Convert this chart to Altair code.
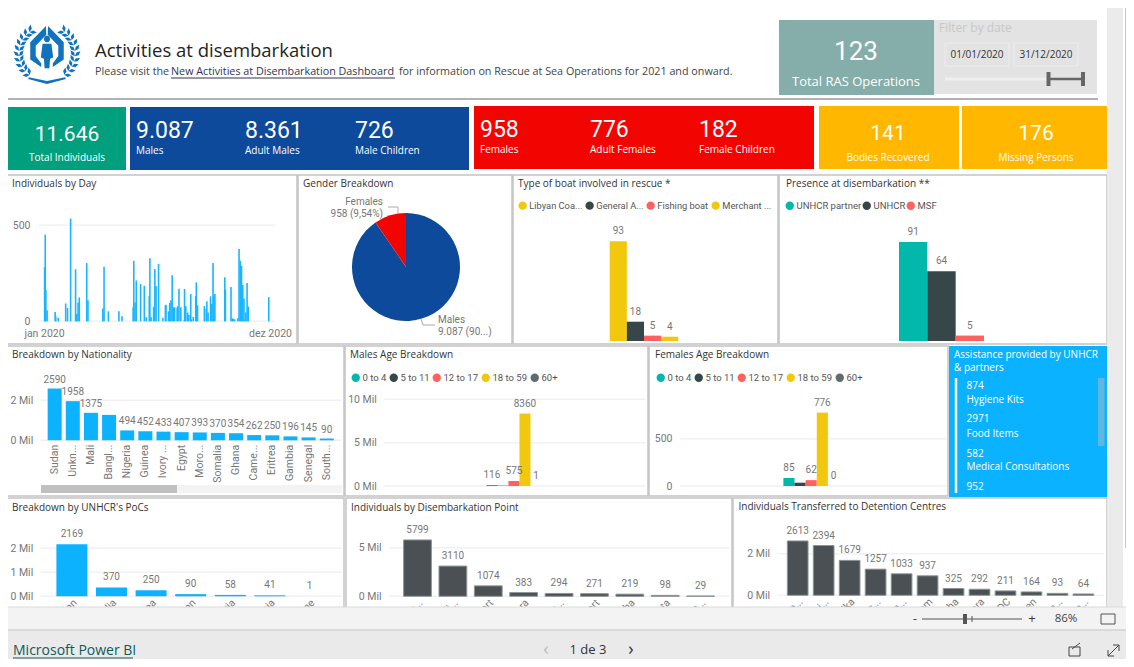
import math
import altair as alt
import pandas as pd

# ---------- data ----------
day_of_2020 = [1,2,3,5,18,19,23,35,38,43,51,52,53,55,57,69,71,95,97,104,121,126,144,145,147,149,156,162,165,170,171,173,177,179,181,185,192,196,197,201,203,205,207,209,211,215,216,218,221,226,227,229,232,234,237,238,241,245,246,248,259,262,263,265,269,271,273,274,276,292,293,302,304,306,308,313,315,317,319,321,323,325,326,328,330,363]
individuals_per_day = [282,451,163,58,49,26,18,93,70,535,271,37,37,98,124,303,110,67,284,52,52,26,73,315,98,212,194,185,21,131,329,21,75,273,184,299,18,84,86,52,96,110,240,73,73,70,79,170,73,4,168,79,46,33,142,9,23,131,203,84,79,65,105,46,130,91,304,133,142,229,165,179,16,12,10,16,376,315,289,189,119,10,47,200,77,126]

gender_cats = ["Males", "Females"]
gender_vals = [9087, 958]

boat_cats = ["Libyan Coa...", "General A...", "Fishing boat", "Merchant ..."]
boat_vals = [93, 18, 5, 4]
presence_cats = ["UNHCR partner", "UNHCR", "MSF"]
presence_vals = [91, 64, 5]

nat_cats = ["Sudan","Unkn...","Mali","Bangl...","Nigeria","Guinea","Ivory ...","Egypt","Moro...","Somalia","Ghana","Came...","Eritrea","Gambia","Senegal","South..."]
nat_vals = [2590,1958,1375,1270,494,452,433,407,393,370,354,262,250,196,145,90]
nat_labels = ["2590","1958","1375","","494","452","433","407","393","370","354","262","250","196","145","90"]

age_cats = ["0 to 4", "5 to 11", "12 to 17", "18 to 59", "60+"]
male_age = [116, 35, 575, 8360, 1]
male_age_labels = ["116", "", "575", "8360", "1"]
female_age = [85, 35, 62, 776, 0]
female_age_labels = ["85", "", "62", "776", "0"]

poc_cats = ["Sudan","Somalia","Eritrea","South Sudan","Syria","Albania","Sierra Leone"]
poc_vals = [2169,370,250,90,58,41,1]
point_cats = ["Al-Khums...","Tripoli...","Tripoli Port","Zuwara","Al Maya...","Misrata Port","Sabratha","Misrata","Sirt..."]
point_vals = [5799,3110,1074,383,294,271,219,98,29]
centre_cats = ["Tajoura...","Al-Mabani...","Zwara Al Ika","Al-Khums...","Abu Salim...","Dar Al Karem","Sabratha","Zuwara","DC","Zliten","Misrata...","Gharyan..."]
centre_vals = [2613,2394,1679,1257,1033,937,325,292,211,164,93,64]

kpis_left = [("9.087","Males"),("8.361","Adult Males"),("726","Male Children")]
kpis_red = [("958","Females"),("776","Adult Females"),("182","Female Children")]
assist = [("874","Hygiene Kits"),("2971","Food Items"),("582","Medical Consultations"),("952","")]

# ---------- palette and layout ----------
W, H = 1118, 651
UI = "Open Sans"
NUM = "Roboto"
BLUE, DARK, RED, YEL, TEAL, GREY = "#0DB2FF", "#374649", "#FD625E", "#F2C80F", "#01B8AA", "#5F6B6D"
BAR_DARK = "#4A5053"
LAB = "#777777"
layers = []

def px(v): return alt.value(v - 8)
def py(v): return alt.value(v - 8)

def rect(x0, y0, x1, y1, fill=None, stroke=None, sw=1.0):
    kw = {}
    kw["fill"] = fill if fill else "transparent"
    if stroke:
        kw["stroke"] = stroke
        kw["strokeWidth"] = sw
    layers.append(alt.Chart().mark_rect(**kw).encode(x=px(x0), x2=px(x1), y=py(y0), y2=py(y1)))

def line(x0, y0, x1, y1, color, sw=1.0):
    layers.append(alt.Chart().mark_rule(color=color, strokeWidth=sw).encode(x=px(x0), x2=px(x1), y=py(y0), y2=py(y1)))

def text(x, y, s, size=10, color="#333333", align="left", font=UI, weight="normal"):
    layers.append(alt.Chart().mark_text(fontSize=size, color=color, align=align, baseline="middle", font=font, fontWeight=weight)
                  .encode(x=px(x), y=py(y), text=alt.value(s)))

def y_axis(x, ticks, expr=None):
    kw = dict(values=ticks, domain=False, ticks=False, grid=False, title=None, labelFont=NUM, labelFontSize=10.5,
              labelColor=LAB, labelPadding=8, offset=-(x - 8), orient="left", labelBaseline="middle")
    if expr:
        kw["labelExpr"] = expr
    return alt.Axis(**kw)

def panel(cats, vals, labels, xr, inner, ydom, yr, ticks, grid, expr, color, stroke=None, angle=None,
          legend=None, label_dy=-10, label_size=10, ax_pad=1):
    xs = alt.Scale(type="band", domain=cats, range=[xr[0] - 8, xr[1] - 8], paddingInner=inner, paddingOuter=inner / 2)
    ys = alt.Scale(domain=[0, ydom], range=[yr[0] - 8, yr[1] - 8], nice=False)
    if ticks:
        layers.append(alt.Chart(pd.DataFrame({"t": ticks})).mark_rule(color="#F1F1F1", strokeWidth=1.5).encode(
            y=alt.Y("t:Q", scale=ys, axis=y_axis(grid[0], ticks, expr)), x=px(grid[0]), x2=px(grid[1])))
    df = pd.DataFrame({"c": cats, "v": vals, "t": labels})
    if angle is not None:
        xax = alt.Axis(orient="bottom", domain=False, ticks=False, grid=False, title=None, labelAngle=angle,
                       labelFont=NUM, labelFontSize=10.5, labelColor=LAB, labelPadding=ax_pad, labelOverlap=False,
                       offset=(yr[0] - 8) - H, labelAlign="right")
    else:
        xax = None
    enc = dict(x=alt.X("c:N", scale=xs, axis=xax, sort=None), y=alt.Y("v:Q", scale=ys, axis=None))
    if isinstance(color, str):
        enc["color"] = alt.value(color)
    else:
        enc["color"] = alt.Color("c:N", scale=alt.Scale(domain=cats, range=color), legend=legend, sort=None)
    kw = {}
    if stroke:
        kw = dict(stroke=stroke, strokeWidth=1)
    layers.append(alt.Chart(df).mark_bar(**kw).encode(**enc))
    layers.append(alt.Chart(df).mark_text(dy=label_dy, fontSize=label_size, font=NUM, color=LAB, baseline="middle").encode(
        x=alt.X("c:N", scale=xs, axis=None, sort=None), y=alt.Y("v:Q", scale=ys, axis=None), text="t:N"))

def dot_legend(x, y, pad, size=9.5):
    return alt.Legend(orient="none", legendX=x - 8, legendY=y - 8, direction="horizontal", title=None, columns=5,
                      gridAlign="none", symbolType="circle", symbolSize=70, symbolStrokeWidth=0, labelFont=NUM, labelFontSize=size,
                      labelColor="#555555", labelOffset=2, columnPadding=pad, padding=0)

# ---------- header ----------
def logo_path():
    scale = 97.0
    def u(p): return f"{(p[0]-125)/scale:.3f},{(p[1]-105)/scale:.3f}"
    def poly(pts): return "M" + " L".join(u(p) for p in pts) + " Z"
    hand = [(122,20),(76,68),(76,118),(108,140),(108,130),(92,108),(92,78),(123,46)]
    parts = [poly(hand), poly([(250-a,b) for a,b in hand])]
    body = [(112,72),(138,72),(143,112),(134,116),(132,144),(118,144),(116,116),(107,112)]
    parts.append(poly(body))
    head = [(125+9*math.cos(i*math.pi/6), 58+10*math.sin(i*math.pi/6)) for i in range(12)]
    parts.append(poly(head))
    parts.append(poly([(72,170),(125,181),(178,170),(180,175),(125,190),(70,175)]))
    for k in range(10):
        a = math.radians(128 + k * 11.5)
        cx, cy = 125 + 82 * math.cos(a), 100 + 80 * math.sin(a)
        tan = (-math.sin(a), math.cos(a))
        rad = (math.cos(a), math.sin(a))
        for off in (-0.7, 0.7):
            dx, dy = tan[0] * 0.75 + rad[0] * off, tan[1] * 0.75 + rad[1] * off
            nx, ny = -dy * 5, dx * 5
            pts = [(cx, cy), (cx + dx * 10 + nx, cy + dy * 10 + ny), (cx + dx * 21, cy + dy * 21), (cx + dx * 10 - nx, cy + dy * 10 - ny)]
            parts.append(poly(pts))
            parts.append(poly([(250 - p, q) for p, q in pts]))
    return " ".join(parts)

layers.append(alt.Chart().mark_point(shape=logo_path(), size=4400, filled=True, color="#1173BE", opacity=1)
              .encode(x=px(47), y=py(55)))
text(95, 51, "Activities at disembarkation", 18.5, "#252423")
text(95, 72, "Please visit the", 10.75, "#444444")
text(171, 72, "New Activities at Disembarkation Dashboard", 10.75, "#333355")
line(171, 78, 395, 78, "#333355")
text(399, 72, "for information on Rescue at Sea Operations for 2021 and onward.", 10.75, "#444444")
line(8, 99, 1098, 99, "#999999", 1.5)

rect(779, 20, 934, 95, "#85ADA9")
text(856, 52, "123", 26, "white", "center", NUM)
text(856, 82, "Total RAS Operations", 13, "white", "center")
rect(934, 20, 1097, 94, "#E3E3E3")
text(939, 28, "Filter by date", 12, "#C8C8C8")
rect(945, 43, 1009, 66, None, "#EDEDED")
rect(1014, 43, 1078, 66, None, "#EDEDED")
text(977, 55, "01/01/2020", 10, "#333333", "center")
text(1046, 55, "31/12/2020", 10, "#333333", "center")
line(945, 79, 1048, 79, "#EFEFEF", 3)
line(1048, 79, 1083, 79, "#666666", 2.5)
line(1048.5, 72, 1048.5, 86, "#666666", 4)
line(1083, 72, 1083, 86, "#666666", 4)

# ---------- KPI cards ----------
rect(7, 107, 126, 170, "#009F7D")
text(67, 135, "11.646", 21, "white", "center", NUM)
text(67, 158, "Total Individuals", 10, "white", "center")
rect(130, 107, 469, 170, "#0E4A9B")
for xp, (n, t) in zip((136, 245, 355), kpis_left):
    text(xp, 131, n, 23, "white", "left", NUM)
    text(xp, 151, t, 10, "white")
rect(474, 106, 814, 169, "#F20500")
for xp, (n, t) in zip((480, 590, 699), kpis_red):
    text(xp, 130, n, 23, "white", "left", NUM)
    text(xp, 150, t, 10, "white")
rect(819, 106, 959, 169, "#FFB700")
text(888, 134, "141", 21, "white", "center", NUM)
text(888, 158, "Bodies Recovered", 10, "white", "center")
rect(962, 106, 1107, 169, "#FFB700")
text(1036, 134, "176", 21, "white", "center", NUM)
text(1036, 158, "Missing Persons", 10, "white", "center")

# ---------- panels ----------
BORDER = "#C4C4C4"
for box in [(7,175,297,344),(298,175,512,344),(513,175,778,344),(779,175,1107,344),
            (7,346,344,496),(345,346,648,496),(649,346,948,496),
            (6,498,344,620),(346,498,732,620),(733,498,1107,620)]:
    rect(*box, None, BORDER, 1.5)

# individuals by day
day_x = alt.Scale(domain=[0, 365], range=[39 - 8, 275 - 8], nice=False, zero=False)
day_y = alt.Scale(domain=[0, 500], range=[321.3 - 8, 225.3 - 8], nice=False)
layers.append(alt.Chart(pd.DataFrame({"t": [0, 500]})).mark_rule(color="#F1F1F1", strokeWidth=1.5).encode(
    y=alt.Y("t:Q", scale=day_y, axis=y_axis(38, [0, 500])), x=px(39), x2=px(275)))
layers.append(alt.Chart(pd.DataFrame({"d": day_of_2020, "v": individuals_per_day})).mark_bar(size=1.6, color="#1AB5FF").encode(
    x=alt.X("d:Q", scale=day_x, axis=alt.Axis(orient="bottom", values=[0, 365], domain=False, ticks=False, grid=False, title=None,
            labelExpr="datum.value == 0 ? 'jan 2020' : 'dez 2020'", labelFont=NUM, labelFontSize=10.5, labelColor=LAB, labelPadding=7,
            labelFlush=False, labelOverlap=False, offset=321.3 - 8 - H)),
    y=alt.Y("v:Q", scale=day_y, axis=None)))
text(12, 183.5, "Individuals by Day", 10, "#333333")

# gender pie
text(303, 183.5, "Gender Breakdown", 10, "#333333")
layers.append(alt.Chart(pd.DataFrame({"c": gender_cats, "v": gender_vals, "o": [0, 1]})).mark_arc(radius=54).encode(
    theta=alt.Theta("v:Q", stack=True, scale=alt.Scale(domain=[0, sum(gender_vals)], range=[0, 2 * math.pi])),
    color=alt.Color("c:N", scale=alt.Scale(domain=gender_cats, range=["#0E4A9B", "#F20500"]), legend=None),
    order=alt.Order("o:Q"), x=px(406), y=py(267)))
text(383, 202, "Females", 10, LAB, "right", NUM)
text(383, 213.5, "958 (9,54%)", 10, LAB, "right", NUM)
line(388, 207, 398, 207, "#AAAAAA")
line(398, 207, 398, 213, "#AAAAAA")
line(421, 319, 423, 325, "#AAAAAA")
line(423, 325, 435, 325, "#AAAAAA")
text(438, 320, "Males", 10, LAB, "left", NUM)
text(438, 332, "9.087 (90...)", 10, LAB, "left", NUM)

# boat
text(518, 183.5, "Type of boat involved in rescue *", 10, "#333333")
panel(boat_cats, boat_vals, [str(v) for v in boat_vals], (609.7, 678.3), 0, 93, (341, 241.3), None, None, None,
      [YEL, DARK, RED, YEL], legend=dot_legend(518, 201, 2, 9.3))
# presence
text(786, 183.5, "Presence at disembarkation **", 10, "#333333")
panel(presence_cats, presence_vals, [str(v) for v in presence_vals], (899, 984), 0, 91, (341, 242), None, None, None,
      [TEAL, DARK, RED], legend=dot_legend(785, 201, 0))

# nationality
text(12, 354.5, "Breakdown by Nationality", 10, "#333333")
panel(nat_cats, nat_vals, nat_labels, (45.6, 335.8), 0.228, 2000, (440.3, 400.3), [0, 2000], (40.7, 341.7),
      "datum.value / 1000 + ' Mil'", BLUE, angle=270, ax_pad=4, label_dy=-9)
rect(41, 485, 342, 493, "#F3F3F3")
rect(41, 485, 177, 493, "#C0C0C0")

# male / female ages
text(350, 354.5, "Males Age Breakdown", 10, "#333333")
panel(age_cats, male_age, male_age_labels, (486.4, 541.5), 0, 10000, (486, 399.3), [0, 5000, 10000], (384.4, 645.5),
      "datum.value / 1000 + ' Mil'", [TEAL, DARK, RED, YEL, GREY], legend=dot_legend(351, 373, 2))
text(655, 354.5, "Females Age Breakdown", 10, "#333333")
panel(age_cats, female_age, female_age_labels, (783.4, 839), 0, 500, (486, 438.7), [0, 500], (680, 947),
      None, [TEAL, DARK, RED, YEL, GREY], legend=dot_legend(656, 373, 2))

# assistance
rect(949, 346, 1107, 497, "#0AB2FF")
text(954, 354.5, "Assistance provided by UNHCR", 10, "white")
text(954, 368, "& partners", 10, "white")
line(956, 378, 956, 493, "white", 2.5)
rect(1098, 378, 1104.5, 446, "#5DB7DE")
for yn, yt, (n, t) in zip((386, 419, 453.5, 487), (400, 434, 467, 500), assist):
    text(966.5, yn, n, 10, "white")
    if t:
        text(966.5, yt, t, 10, "white")

# bottom row
text(12, 507.5, "Breakdown by UNHCR's PoCs", 10, "#333333")
panel(poc_cats, poc_vals, [str(v) for v in poc_vals], (52.1, 329.3), 0.217, 2000, (596.3, 548.3), [0, 1000, 2000], (40.7, 341.8),
      "datum.value / 1000 + ' Mil'", BLUE, angle=315)
text(351, 507.5, "Individuals by Disembarkation Point", 10, "#333333")
panel(point_cats, point_vals, [str(v) for v in point_vals], (399.8, 718.3), 0.215, 5000, (596.3, 547.7), [0, 5000], (389, 729.5),
      "datum.value / 1000 + ' Mil'", BAR_DARK, stroke="#8E9496", angle=315)
text(738.5, 506.5, "Individuals Transferred to Detention Centres", 10, "#333333")
panel(centre_cats, centre_vals, [str(v) for v in centre_vals], (784.7, 1096.4), 0.203, 2000, (595.3, 553.7), [0, 2000], (777.5, 1104),
      "datum.value / 1000 + ' Mil'", BAR_DARK, stroke="#8E9496", angle=315)

# ---------- window chrome ----------
rect(1107, 0, 1123, 607, "#EBEBEB")
rect(1125, 0, 1134, 548, "#C8C8C8")
rect(0, 607, 1134, 630, "#F3F3F3")
rect(0, 630, 1134, 667, "#EAEAEA")
line(0, 607, 1134, 607, "#DADADA")
line(0, 630, 1134, 630, "#C6C6C6")
text(915, 619, "-", 12, "#333333", "center")
line(922, 619, 1022, 619, "#555555")
line(965, 614, 965, 624, "#555555", 4)
line(972, 616, 972, 622, "#555555")
text(1032, 619, "+", 13, "#333333", "center")
text(1066, 619, "86%", 11.5, "#444444", "center")
rect(1101, 614, 1115, 624, None, "#555555")
text(13, 651, "Microsoft Power BI", 14, "#0E5A5A")
line(13, 658, 133, 658, "#0E5A5A")
text(546, 650, "\u2039", 18, "#BBBBBB", "center")
text(588, 650, "1 de 3", 13, "#333333", "center")
text(631, 650, "\u203A", 18, "#333333", "center")
rect(1069, 647, 1080, 656, None, "#444444")
line(1072, 649, 1080, 643, "#444444")
line(1108, 656, 1119, 645, "#444444")
line(1119, 645, 1113, 645, "#444444")
line(1119, 645, 1119, 651, "#444444")
line(1108, 656, 1108, 650, "#444444")
line(1108, 656, 1114, 656, "#444444")

chart = (alt.layer(*layers)
         .resolve_scale(x="independent", y="independent", color="independent", theta="independent")
         .properties(width=W, height=H, autosize=alt.AutoSizeParams(type="none"), padding=0, background="white")
         .configure_view(stroke=None))
chart.save("out.html", embed_options={"renderer": "svg", "actions": False})
